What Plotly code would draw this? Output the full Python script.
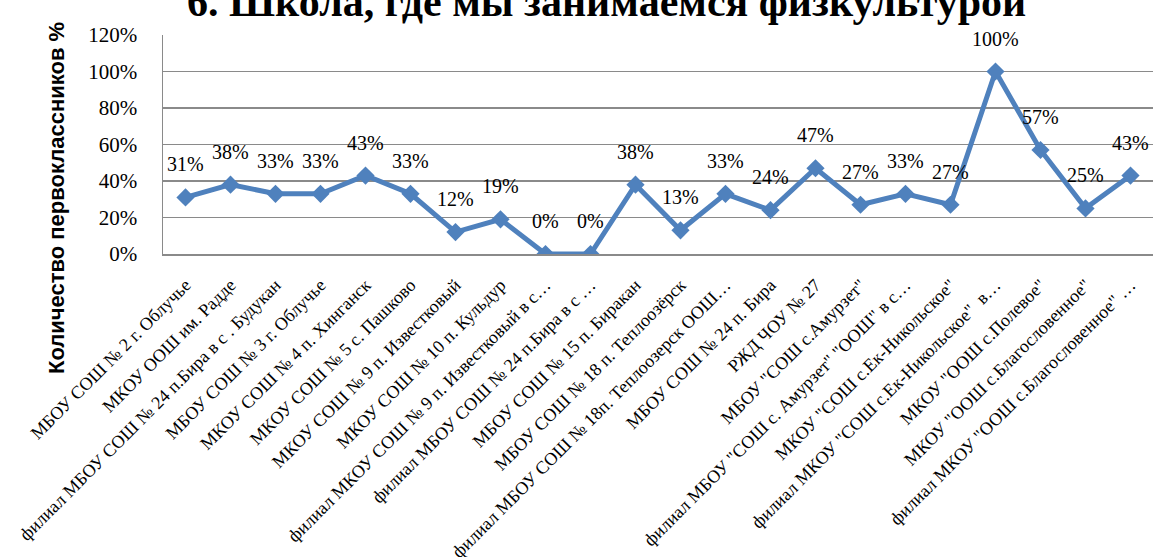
import plotly.graph_objects as go

title_text = "6. Школа, где мы занимаемся физкультурой"
y_title = "Количество первоклассников %"

schools = [
    "МБОУ СОШ № 2 г. Облучье",
    "МКОУ ООШ им. Радде",
    "филиал МБОУ СОШ № 24 п.Бира в с . Будукан",
    "МБОУ СОШ № 3 г. Облучье",
    "МКОУ СОШ № 4 п. Хинганск",
    "МКОУ СОШ № 5 с. Пашково",
    "МКОУ СОШ № 9 п. Известковый",
    "МКОУ СОШ № 10 п. Кульдур",
    "филиал МКОУ СОШ № 9 п. Известковый в с…",
    "филиал МБОУ СОШ № 24 п.Бира в с …",
    "МБОУ СОШ № 15 п. Биракан",
    "МБОУ СОШ № 18 п. Теплоозёрск",
    "филиал МБОУ СОШ № 18п. Теплоозерск ООШ…",
    "МБОУ СОШ № 24 п. Бира",
    "РЖД ЧОУ № 27",
    "МБОУ \"СОШ с.Амурзет\"",
    "филиал МБОУ \"СОШ с. Амурзет\" \"ООШ\" в с…",
    "МКОУ \"СОШ с.Ек-Никольское\"",
    "филиал МКОУ \"СОШ с.Ек-Никольское\"  в…",
    "МКОУ \"ООШ с.Полевое\"",
    "МКОУ \"ООШ с.Благословенное\"",
    "филиал МКОУ \"ООШ с.Благословенное\" …",
]
shares = [0.31, 0.38, 0.33, 0.33, 0.43, 0.33, 0.12, 0.19, 0.00, 0.00, 0.38,
          0.13, 0.33, 0.24, 0.47, 0.27, 0.33, 0.27, 1.00, 0.57, 0.25, 0.43]
y_ticks = [0, 0.2, 0.4, 0.6, 0.8, 1.0, 1.2]

BLUE = "#4F81BD"
GRID = "#8A8A8A"
SERIF = "Liberation Serif, Times New Roman, serif"

fig = go.Figure()
fig.add_trace(go.Scatter(
    x=schools, y=shares, mode="lines+markers",
    line=dict(color=BLUE, width=5),
    marker=dict(symbol="diamond", size=14, color=BLUE),
    showlegend=False, hoverinfo="skip",
))

annotations = []
for s, v in zip(schools, shares):
    annotations.append(dict(
        x=s, y=v, xref="x", yref="y", text=f"{round(v * 100)}%",
        showarrow=False, yanchor="middle", xanchor="center", yshift=33,
        font=dict(family=SERIF, size=20, color="black"),
    ))

annotations.append(dict(
    x=0.448, y=1.151, xref="paper", yref="paper", text=f"<b>{title_text}</b>",
    showarrow=False, xanchor="center", yanchor="middle",
    font=dict(family=SERIF, size=42, color="black"),
))
annotations.append(dict(
    x=-0.107, y=0.256, xref="paper", yref="paper", text=f"<b>{y_title}</b>",
    showarrow=False, xanchor="center", yanchor="middle", textangle=-90,
    font=dict(family="Liberation Sans, Arial, sans-serif", size=22, color="black"),
))

fig.update_layout(
    width=1161, height=557,
    margin=dict(l=163, r=8, t=35, b=303),
    paper_bgcolor="white", plot_bgcolor="white",
    annotations=annotations,
    xaxis=dict(
        type="category", range=[-0.5, len(schools) - 0.5],
        tickangle=-45, showgrid=False, showline=True,
        linecolor=GRID, linewidth=1.5, ticks="", automargin=False,
        tickfont=dict(family=SERIF, size=18, color="black"),
        ticklabelstandoff=12,
    ),
    yaxis=dict(
        range=[0, 1.2], tickvals=y_ticks, tickformat=".0%", automargin=False,
        showgrid=True, gridcolor=GRID, gridwidth=1.5,
        showline=True, linecolor=GRID, linewidth=1.5, zeroline=False,
        tickfont=dict(family=SERIF, size=21, color="black"),
        ticklabelstandoff=20,
    ),
)

fig.write_html(
    "out.html",
    config={"displayModeBar": False, "staticPlot": True},
    post_script="document.body.style.margin='0';",
)
